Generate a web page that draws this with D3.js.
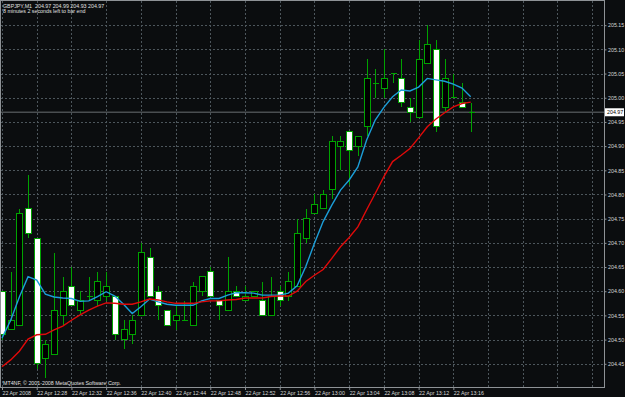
<!DOCTYPE html>
<html>
<head>
<meta charset="utf-8">
<script src="https://cdn.jsdelivr.net/npm/d3@7"></script>
<style>
  html, body { margin: 0; padding: 0; background: #0b0d0f; overflow: hidden; }
  svg { display: block; }
  text { font-family: "Liberation Sans", Arial, sans-serif; }
</style>
</head>
<body>
<div id="chart"></div>
<script>

/* chart data, GBPJPY M1, 22 Apr 2008 */
var times = ["12:24","12:25","12:26","12:27","12:28","12:29","12:30","12:31","12:32","12:33",
  "12:34","12:35","12:36","12:37","12:38","12:39","12:40","12:41","12:42","12:43",
  "12:44","12:45","12:46","12:47","12:48","12:49","12:50","12:51","12:52","12:53",
  "12:54","12:55","12:56","12:57","12:58","12:59","13:00","13:01","13:02","13:03",
  "13:04","13:05","13:06","13:07","13:08","13:09","13:10","13:11","13:12","13:13",
  "13:14","13:15","13:16","13:17","13:18"];

var opens = [204.60,204.52,204.53,204.77,204.71,204.46,204.47,204.55,204.61,204.56,
  204.59,204.58,204.59,204.59,204.50,204.51,204.55,204.67,204.60,204.56,
  204.54,204.54,204.53,204.60,204.64,204.58,204.56,204.60,204.58,204.59,
  204.58,204.55,204.60,204.59,204.61,204.71,204.76,204.77,204.81,204.90,
  204.93,204.90,204.94,205.03,205.02,205.05,205.04,204.98,204.96,205.07,
  205.10,204.98,205.00,204.99,204.97];
var highs = [204.60,204.64,204.77,204.84,204.71,204.50,204.68,204.63,204.65,204.60,
  204.63,204.64,204.64,204.59,204.54,204.55,204.70,204.69,204.61,204.56,
  204.57,204.58,204.62,204.63,204.65,204.58,204.67,204.61,204.61,204.60,
  204.62,204.63,204.61,204.64,204.75,204.77,204.80,204.81,204.92,204.92,
  204.93,204.92,205.08,205.06,205.10,205.05,205.08,205.00,205.12,205.15,
  205.12,205.08,205.05,205.03,204.99];
var lows = [204.50,204.52,204.53,204.71,204.44,204.42,204.47,204.53,204.57,204.55,
  204.58,204.57,204.58,204.50,204.48,204.49,204.55,204.59,204.54,204.53,
  204.52,204.54,204.53,204.59,204.59,204.54,204.56,204.59,204.58,204.59,
  204.55,204.55,204.57,204.58,204.61,204.70,204.76,204.77,204.79,204.85,
  204.82,204.88,204.92,205.00,205.00,205.03,204.98,204.95,204.96,205.07,
  204.93,204.97,205.00,204.98,204.93];
var closes = [204.51,204.54,204.76,204.72,204.45,204.49,204.56,204.60,204.57,204.58,
  204.59,204.62,204.61,204.51,204.52,204.54,204.68,204.59,204.57,204.53,
  204.55,204.54,204.61,204.63,204.59,204.57,204.60,204.59,204.59,204.60,
  204.55,204.59,204.58,204.62,204.72,204.75,204.78,204.80,204.91,204.91,
  204.89,204.92,205.04,205.03,205.04,205.05,204.99,204.97,205.08,205.11,
  204.94,205.04,205.00,204.98,204.97];

// moving averages as drawn on the chart (blue = fast, red = slow)
var maFast = [204.503,204.540,204.588,204.630,204.623,204.594,204.588,204.586,204.585,204.579,
  204.580,204.589,204.599,204.590,204.573,204.554,204.568,204.584,204.578,204.573,
  204.571,204.571,204.571,204.580,204.585,204.585,204.592,204.597,204.597,204.596,
  204.592,204.592,204.592,204.596,204.611,204.651,204.699,204.744,204.778,204.809,
  204.830,204.857,204.912,204.954,204.980,205.002,205.016,205.014,205.022,205.040,
  205.037,205.034,205.028,205.020,205.002];
var maSlow = [204.444,204.458,204.476,204.501,204.510,204.511,204.520,204.528,204.540,204.551,
  204.561,204.569,204.576,204.575,204.573,204.573,204.578,204.584,204.582,204.578,
  204.575,204.575,204.575,204.578,204.580,204.580,204.582,204.583,204.586,204.586,
  204.586,204.589,204.590,204.590,204.600,204.620,204.633,204.645,204.668,204.692,
  204.711,204.733,204.768,204.802,204.837,204.868,204.881,204.895,204.917,204.940,
  204.956,204.969,204.981,204.988,204.991];

var priceTicks = [204.45,204.50,204.55,204.60,204.65,204.70,204.75,204.80,204.85,
  204.90,204.95,205.00,205.05,205.10,205.15];

var timeLabelBars = ["12:24","12:28","12:32","12:36","12:40","12:44","12:48","12:52",
  "12:56","13:00","13:04","13:08","13:12","13:16"];
var timeLabels = ["22 Apr 2008","22 Apr 12:28","22 Apr 12:32","22 Apr 12:36","22 Apr 12:40",
  "22 Apr 12:44","22 Apr 12:48","22 Apr 12:52","22 Apr 12:56","22 Apr 13:00",
  "22 Apr 13:04","22 Apr 13:08","22 Apr 13:12","22 Apr 13:16"];

var bidPrice = 204.97;
var titleText = "GBPJPY,M1  204.97 204.99 204.93 204.97";
var countdownText = "8 minutes 2 seconds left to bar end";
var copyrightText = "MT4NF, \u00a9 2001-2008 MetaQuotes Software Corp.";


/* layout */
var W = 625, H = 397;
var plotRight = 604, plotBottom = 387;
var fontSize = 5.3;

var svg = d3.select("#chart").append("svg")
  .attr("width", W)
  .attr("height", H);

svg.append("rect")
  .attr("width", W).attr("height", H)
  .attr("fill", "#0b0d0f");

// one slot per minute, the grid keeps going past the last bar
var x = d3.scaleLinear()
  .domain([0, 68])
  .range([2, 592.2]);

var y = d3.scaleLinear()
  .domain([204.402, 205.20])
  .range([plotBottom, 1]);

function cx(i) { return Math.round(x(i)) + 0.5; }

/* grid */
var grid = svg.append("g").attr("stroke", "#4d565c").attr("stroke-dasharray", "2,2");

grid.selectAll(".hgrid")
  .data(priceTicks)
  .enter().append("line")
  .attr("x1", 1).attr("x2", plotRight)
  .attr("y1", function(d) { return Math.round(y(d)) + 0.5; })
  .attr("y2", function(d) { return Math.round(y(d)) + 0.5; });

grid.selectAll(".vgrid")
  .data(d3.range(0, 69, 4))
  .enter().append("line")
  .attr("x1", function(d) { return cx(d); })
  .attr("x2", function(d) { return cx(d); })
  .attr("y1", 1).attr("y2", plotBottom);

/* bid line */
svg.append("line")
  .attr("x1", 1).attr("x2", plotRight)
  .attr("y1", y(bidPrice)).attr("y2", y(bidPrice))
  .attr("stroke", "#4a4e51")
  .attr("stroke-width", 1.6);

/* candles */
var bars = times.map(function(t, i) {
  return {t: t, i: i, o: opens[i], h: highs[i], l: lows[i], c: closes[i]};
});

var candleColor = "#00a300";
var cg = svg.append("g").attr("shape-rendering", "crispEdges");

cg.selectAll(".wick")
  .data(bars)
  .enter().append("line")
  .attr("x1", function(d) { return cx(d.i); })
  .attr("x2", function(d) { return cx(d.i); })
  .attr("y1", function(d) { return y(d.h); })
  .attr("y2", function(d) { return y(d.l); })
  .attr("stroke", candleColor);

cg.selectAll(".body")
  .data(bars.filter(function(d) { return d.o != d.c; }))
  .enter().append("rect")
  .attr("x", function(d) { return cx(d.i) - 3; })
  .attr("width", 6)
  .attr("y", function(d) { return y(Math.max(d.o, d.c)); })
  .attr("height", function(d) { return Math.abs(y(d.o) - y(d.c)); })
  .attr("fill", function(d) { return d.c > d.o ? "#000000" : "#ffffff"; })
  .attr("stroke", candleColor);

cg.selectAll(".doji")
  .data(bars.filter(function(d) { return d.o == d.c; }))
  .enter().append("line")
  .attr("x1", function(d) { return cx(d.i) - 3; })
  .attr("x2", function(d) { return cx(d.i) + 3; })
  .attr("y1", function(d) { return y(d.o); })
  .attr("y2", function(d) { return y(d.o); })
  .attr("stroke", candleColor);

/* moving averages */
var lineFast = d3.line()
  .x(function(d, i) { return x(i); })
  .y(function(d) { return y(d); });

svg.append("path")
  .datum(maFast)
  .attr("d", lineFast)
  .attr("fill", "none")
  .attr("stroke", "#1c9ed8")
  .attr("stroke-width", 1.4);

svg.append("path")
  .datum(maSlow)
  .attr("d", lineFast)
  .attr("fill", "none")
  .attr("stroke", "#e00a0a")
  .attr("stroke-width", 1.4);

/* frame */
svg.append("rect")
  .attr("x", 0.5).attr("y", 0.5)
  .attr("width", plotRight).attr("height", plotBottom)
  .attr("fill", "none")
  .attr("stroke", "#8e9296");

/* price axis */
var yAxis = svg.append("g")
  .attr("transform", "translate(" + (plotRight + 0.5) + ",0)")
  .call(d3.axisRight(y).tickValues(priceTicks).tickFormat(d3.format(".2f")).tickSize(2).tickPadding(1.5));
yAxis.select(".domain").remove();
yAxis.selectAll("line").attr("stroke", "#8e9296");
yAxis.selectAll("text")
  .attr("fill", "#d6d6d6")
  .style("font-size", fontSize + "px");

// current price marker
var bidLabel = svg.append("g").attr("transform", "translate(605," + y(bidPrice) + ")");
bidLabel.append("rect")
  .attr("x", 0).attr("y", -4)
  .attr("width", 19).attr("height", 8)
  .attr("fill", "#ffffff");
bidLabel.append("text")
  .attr("x", 2).attr("dy", "0.35em")
  .attr("fill", "#000000")
  .style("font-size", fontSize + "px")
  .text(d3.format(".2f")(bidPrice));

/* time axis */
var xAxis = svg.append("g")
  .attr("transform", "translate(0," + plotBottom + ")")
  .call(d3.axisBottom(x)
    .tickValues(timeLabelBars.map(function(t) { return times.indexOf(t); }))
    .tickFormat(function(d, k) { return timeLabels[k]; })
    .tickSize(3));
xAxis.select(".domain").remove();
xAxis.selectAll("line").attr("stroke", "#8e9296");
xAxis.selectAll("text")
  .attr("text-anchor", "start")
  .attr("y", 4.3)
  .attr("fill", "#d6d6d6")
  .style("font-size", fontSize + "px");

/* corner texts */
svg.append("text")
  .attr("x", 3).attr("y", 7.5)
  .attr("fill", "#e0e0e0")
  .style("font-size", fontSize + "px")
  .style("white-space", "pre")
  .text(titleText);

svg.append("text")
  .attr("x", 3).attr("y", 13)
  .attr("fill", "#e0e0e0")
  .style("font-size", fontSize + "px")
  .text(countdownText);

svg.append("text")
  .attr("x", 3).attr("y", 384.5)
  .attr("fill", "#e0e0e0")
  .style("font-size", fontSize + "px")
  .text(copyrightText);

</script>
</body>
</html>
